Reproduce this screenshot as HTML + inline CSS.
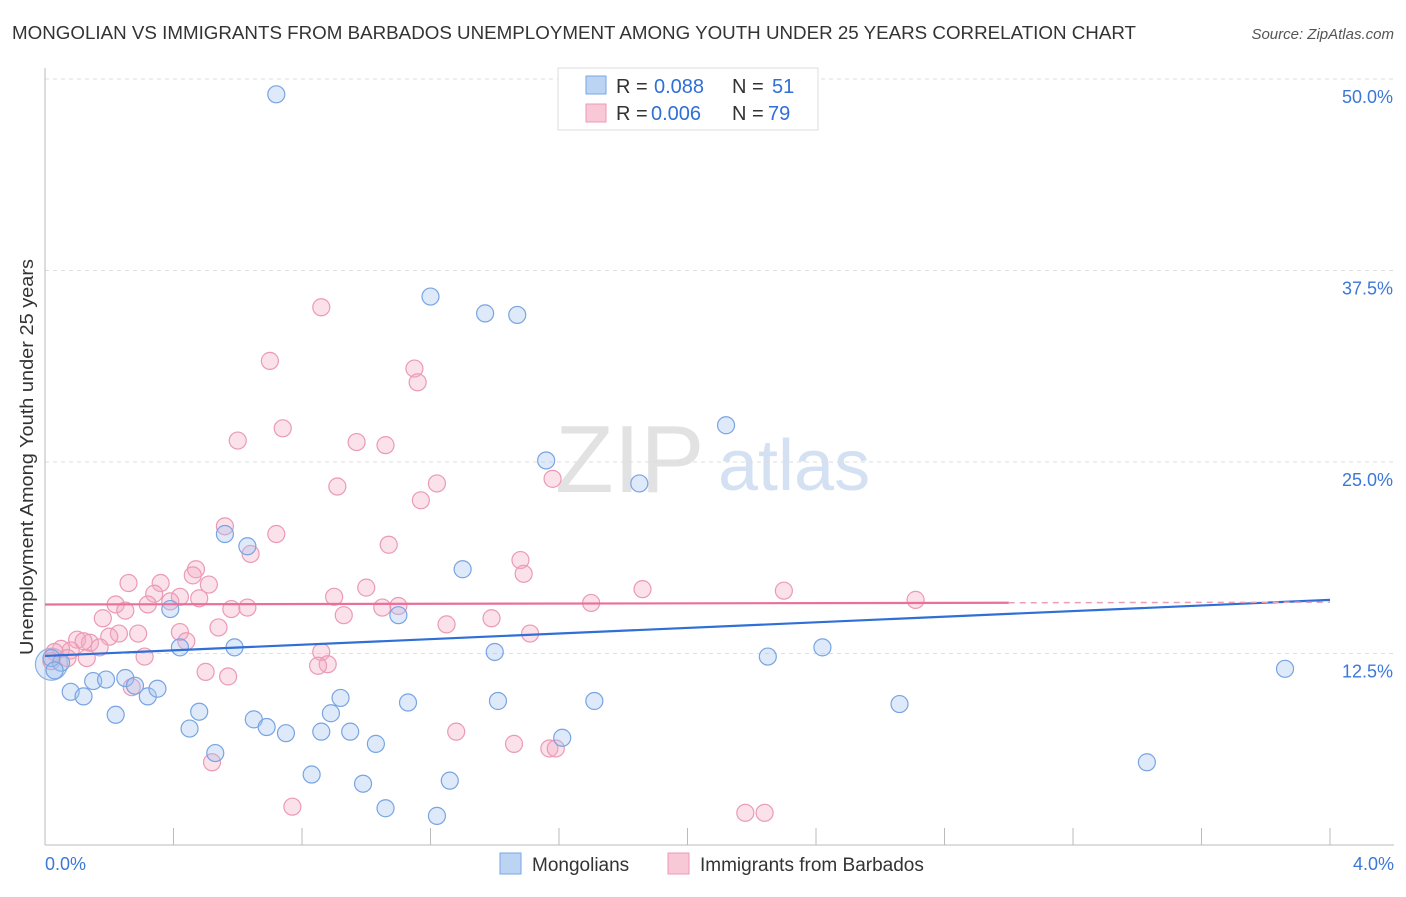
<!DOCTYPE html>
<html><head><meta charset="utf-8"><style>
body{margin:0;background:#fff;font-family:"Liberation Sans",sans-serif;}
svg text{font-family:"Liberation Sans",sans-serif;}
</style></head><body>
<svg id="chart" width="1406" height="892" xmlns="http://www.w3.org/2000/svg">
<text x="12" y="39" font-size="18" fill="#333" textLength="1124" lengthAdjust="spacingAndGlyphs">MONGOLIAN VS IMMIGRANTS FROM BARBADOS UNEMPLOYMENT AMONG YOUTH UNDER 25 YEARS CORRELATION CHART</text>
<text x="1394" y="39" font-size="15" fill="#555" font-style="italic" text-anchor="end">Source: ZipAtlas.com</text>
<text x="33" y="457" font-size="18" fill="#333" text-anchor="middle" textLength="396" lengthAdjust="spacingAndGlyphs" transform="rotate(-90 33 457)">Unemployment Among Youth under 25 years</text>
<text x="555" y="492" font-size="96" fill="#e2e2e2" font-family="Liberation Serif">ZIP</text>
<text x="718" y="490" font-size="72" fill="#d4e1f3">atlas</text>
<g id="grid"></g><g id="axes"></g><g id="pts"></g><g id="lines"></g>
<g>
<rect x="558" y="68" width="260" height="62" fill="#fff" stroke="#ddd"/>
<rect x="586" y="76" width="20" height="18" fill="#bcd4f4" stroke="#7aa6e4"/>
<rect x="586" y="104" width="20" height="18" fill="#f8c8d6" stroke="#ec9ab4"/>
<text x="616" y="93" font-size="20" fill="#333">R =</text><text x="654" y="93" font-size="20" fill="#2f6fd6">0.088</text>
<text x="732" y="93" font-size="20" fill="#333">N =</text><text x="772" y="93" font-size="20" fill="#2f6fd6">51</text>
<text x="616" y="120" font-size="20" fill="#333">R =</text><text x="651" y="120" font-size="20" fill="#2f6fd6">0.006</text>
<text x="732" y="120" font-size="20" fill="#333">N =</text><text x="768" y="120" font-size="20" fill="#2f6fd6">79</text>
</g>
<g>
<rect x="500" y="853" width="21" height="21" fill="#bcd4f4" stroke="#7aa6e4"/>
<text x="532" y="871" font-size="19" fill="#333">Mongolians</text>
<rect x="668" y="853" width="21" height="21" fill="#f8c8d6" stroke="#ec9ab4"/>
<text x="700" y="871" font-size="19" fill="#333">Immigrants from Barbados</text>
</g>
</svg>
<script>
const yTicks=[12.5,25,37.5,50];
const yTickLabels=["12.5%","25.0%","37.5%","50.0%"];
const xTicks=[0,0.4,0.8,1.2,1.6,2.0,2.4,2.8,3.2,3.6,4.0];
const blueX=[0.72,1.20,1.37,1.47,2.12,1.56,1.85,0.56,0.63,1.30,0.39,1.10,0.42,0.59,1.40,2.42,2.25,3.86,0.05,0.02,0.03,0.08,0.12,0.15,0.19,0.25,0.28,0.32,0.35,0.22,0.48,0.45,0.65,0.69,0.75,0.86,0.89,0.92,0.95,1.03,1.13,1.41,1.71,2.66,0.53,0.83,0.99,1.26,1.06,1.22,1.61,3.43];
const blueY=[49.0,35.8,34.7,34.6,27.4,25.1,23.6,20.3,19.5,18.0,15.4,15.0,12.9,12.9,12.6,12.9,12.3,11.5,11.9,12.2,11.4,10.0,9.7,10.7,10.8,10.9,10.4,9.7,10.2,8.5,8.7,7.6,8.2,7.7,7.3,7.4,8.6,9.6,7.4,6.6,9.3,9.4,9.4,9.2,6.0,4.6,4.0,4.2,2.4,1.9,7.0,5.4];
const pinkX=[0.86,0.70,1.15,1.16,0.74,0.60,0.97,1.06,0.91,1.22,1.58,1.17,0.56,0.72,0.64,1.07,1.48,1.49,0.47,0.46,0.26,0.36,0.51,1.00,0.34,0.42,0.90,0.39,0.48,0.22,0.32,0.58,0.63,1.05,1.10,1.70,1.86,2.30,2.71,0.25,0.18,0.93,1.39,1.25,0.54,0.42,0.29,0.23,0.20,0.10,0.14,0.17,0.12,0.08,0.05,0.03,0.07,0.44,0.31,0.86,0.88,0.85,0.50,0.57,0.27,1.51,1.28,1.46,1.57,1.59,0.52,0.77,2.18,2.24,0.02,0.13];
const pinkY=[35.1,31.6,31.1,30.2,27.2,26.4,26.3,26.1,23.4,23.6,23.9,22.5,20.8,20.3,19.0,19.6,18.6,17.7,18.0,17.6,17.1,17.1,17.0,16.8,16.4,16.2,16.2,15.9,16.1,15.7,15.7,15.4,15.5,15.5,15.6,15.8,16.7,16.6,16.0,15.3,14.8,15.0,14.8,14.4,14.2,13.9,13.8,13.8,13.6,13.4,13.2,12.9,13.3,12.7,12.8,12.6,12.2,13.3,12.3,12.6,11.8,11.7,11.3,11.0,10.3,13.8,7.4,6.6,6.3,6.3,5.4,2.5,2.1,2.1,12.0,12.2];
const bigBlueX=[0.02];
const bigBlueY=[11.8];
const blueTrend=[12.34,16.0];
const pinkTrend=[15.7,15.85];
const NS="http://www.w3.org/2000/svg";
const X0=45,X1=1330,Y0=845,Y50=79;
const xs=v=>X0+(v/4)*(X1-X0);
const ys=v=>Y0-(v/50)*(Y0-Y50);
function mk(tag,attrs,parent){const e=document.createElementNS(NS,tag);for(const k in attrs)e.setAttribute(k,attrs[k]);document.getElementById(parent).appendChild(e);return e;}
yTicks.forEach((t,i)=>{
 const g=mk('line',{x1:45,x2:1394,y1:ys(t),y2:ys(t),stroke:'#ddd','stroke-dasharray':'4,4'},'grid');
 
 
 const tx=mk('text',{x:1393,y:ys(t)+24,'font-size':18,fill:'#3b78d8','text-anchor':'end'},'axes');
 tx.textContent=yTickLabels[i];
 
 
});
const ax=mk('line',{x1:45,x2:1394,y1:Y0,y2:Y0,stroke:'#bbb'},'axes');


const ay=mk('line',{x1:45,x2:45,y1:68,y2:Y0,stroke:'#bbb'},'axes');


xTicks.forEach(t=>{const l=mk('line',{x1:xs(t),x2:xs(t),y1:Y0,y2:Y0-17,stroke:'#bbb'},'axes');
 
 });
const xl0=mk('text',{x:45,y:870,'font-size':18,fill:'#3b78d8'},'axes');xl0.textContent='0.0%';


const xl1=mk('text',{x:1394,y:870,'font-size':18,fill:'#3b78d8','text-anchor':'end'},'axes');xl1.textContent='4.0%';


bigBlueX.forEach((v,i)=>{const c=mk('circle',{cx:xs(v),cy:ys(bigBlueY[i]),r:16,fill:'rgba(160,196,240,0.35)',stroke:'#8ab0e6','stroke-width':1.2},'pts');
 
 });
pinkX.forEach((v,i)=>{const c=mk('circle',{cx:xs(v),cy:ys(pinkY[i]),r:8.5,fill:'rgba(244,170,195,0.35)',stroke:'#eb9ab5','stroke-width':1.2},'pts');
 
 });
blueX.forEach((v,i)=>{const c=mk('circle',{cx:xs(v),cy:ys(blueY[i]),r:8.5,fill:'rgba(160,196,240,0.35)',stroke:'#78a4e2','stroke-width':1.2},'pts');
 
 });
const bl=mk('line',{x1:xs(0),x2:xs(4),y1:ys(blueTrend[0]),y2:ys(blueTrend[1]),stroke:'#2f6fd6','stroke-width':2.2},'lines');


const pm=pinkTrend[0]+(pinkTrend[1]-pinkTrend[0])*0.75;
const pl=mk('line',{x1:xs(0),x2:xs(3),y1:ys(pinkTrend[0]),y2:ys(pm),stroke:'#e8709a','stroke-width':2.2},'lines');


const pd=mk('line',{x1:xs(3),x2:xs(4),y1:ys(pm),y2:ys(pinkTrend[1]),stroke:'#e8a0b8','stroke-width':1.5,'stroke-dasharray':'6,5'},'lines');


</script>
</body></html>
